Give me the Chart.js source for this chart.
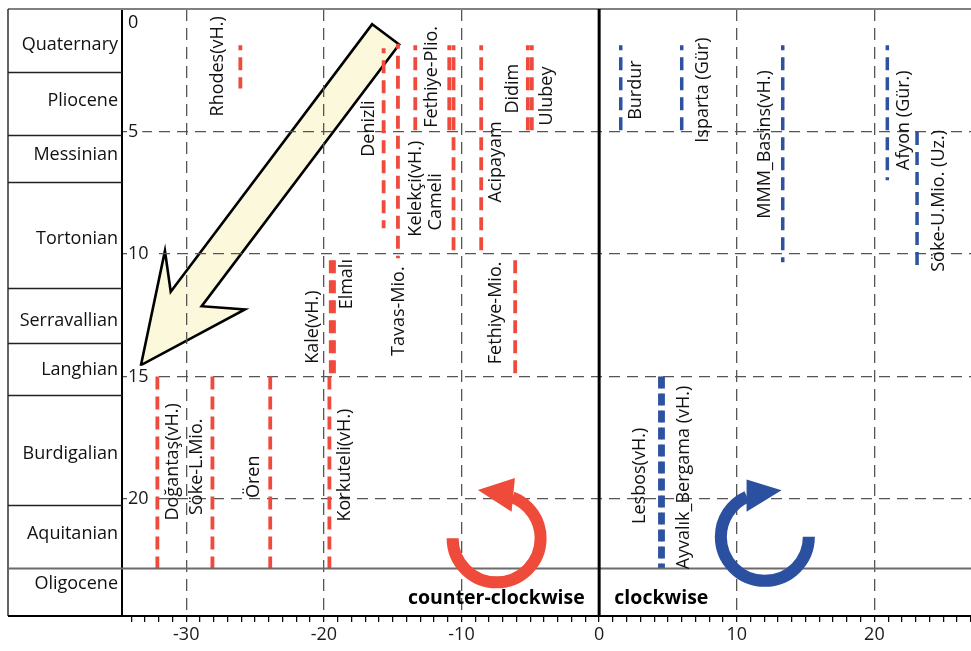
<!DOCTYPE html>
<html>
<head>
<meta charset="utf-8">
<script src="https://cdn.jsdelivr.net/npm/chart.js@4.4.1/dist/chart.umd.min.js"></script>
<style>
html,body{margin:0;padding:0;background:#fff;}
#wrap{width:971px;height:651px;position:relative;}
</style>
</head>
<body>
<div id="wrap"><canvas id="c" width="971" height="651"></canvas></div>
<script>
// ---------- DATA ----------
// Stratigraphic column (age in Ma, increasing downwards)
const epochNames = ['Quaternary','Pliocene','Messinian','Tortonian','Serravallian','Langhian','Burdigalian','Aquitanian','Oligocene'];
const epochBase  = [2.57, 5.14, 7.04, 11.40, 13.61, 15.75, 20.22, 22.83, 24.77];
const epochLabelAge = [1.48, 3.76, 5.97, 9.39, 12.74, 14.74, 18.16, 21.43, 23.47];

// Counter-clockwise rotations (red), rotation in degrees, age range in Ma
const ccwSites    = ['Rhodes(vH.)','Denizli','Tavas-Mio.','Fethiye-Plio.','Kelekçi(vH.)','Cameli','Acipayam','Didim','Ulubey','Fethiye-Mio.','Kale(vH.)','Elmalı','Korkuteli(vH.)','Doğantaş(vH.)','Söke-L.Mio.','Ören'];
const ccwRotation = [-26.07, -15.66, -14.62, -13.36, -10.89, -10.58, -8.57, -5.18, -4.89, -6.10, -19.50, -19.27, -19.60, -32.10, -28.10, -23.90];
const ccwFrom     = [1.48, 1.60, 1.42, 1.48, 1.48, 1.48, 1.48, 1.48, 1.48, 10.25, 10.25, 10.25, 15.0, 15.0, 15.0, 15.0];
const ccwTo       = [3.24, 8.95, 10.17, 4.95, 4.95, 10.10, 9.97, 4.95, 4.95, 15.0, 15.0, 15.0, 22.83, 22.83, 22.83, 22.83];
const ccwLabelRot = [-27.70, -16.73, -14.55, -12.15, -13.35, -11.87, -7.50, -6.27, -3.80, -7.50, -20.80, -18.33, -18.47, -30.97, -29.22, -25.08];
const ccwLabelAge = [2.34, 4.88, 12.33, 2.77, 7.33, 7.87, 6.24, 3.25, 3.55, 12.40, 12.98, 11.23, 18.61, 18.48, 18.68, 19.09];

// Clockwise rotations (blue)
const cwSites    = ['Burdur','Isparta (Gür)','MMM_Basins(vH.)','Afyon (Gür.)','Söke-U.Mio. (Uz.)','Lesbos(vH.)','Ayvalık_Bergama (vH.)'];
const cwRotation = [1.57, 6.00, 13.34, 20.94, 23.10, 4.42, 4.64];
const cwFrom     = [1.48, 1.48, 1.48, 1.48, 5.02, 15.0, 15.0];
const cwTo       = [4.95, 4.95, 10.33, 6.99, 10.45, 22.83, 22.83];
const cwLabelRot = [2.67, 7.53, 12.04, 22.13, 24.67, 2.96, 6.15];
const cwLabelAge = [3.31, 3.31, 5.53, 4.54, 7.83, 19.05, 19.12];

// Axes
const X_MIN = -34.67, X_MAX = 27.02;
const Y_MIN = 0, Y_MAX = 24.77;
const xMajorTicks = [-30, -20, -10, 0, 10, 20];
const yTicks = [0, 5, 10, 15, 20];

// Annotations (data units)
const bigArrow = [[-16.49,0.62],[-14.53,1.45],[-28.88,12.13],[-25.74,12.26],[-33.29,14.53],[-31.55,9.87],[-31.13,11.54]];
const ccwCircle = {x: -7.45, y: 21.6};
const cwCircle  = {x: 12.04, y: 21.54};
const ccwText = {x: -7.47, y: 24.04, text: 'counter-clockwise'};
const cwText  = {x: 4.52, y: 24.04, text: 'clockwise'};

// ---------- STYLE ----------
const FONT = '"Open Sans", "Noto Sans", sans-serif';
const RED = '#EF4A3C';
const BLUE = '#2C52A0';
Chart.defaults.font.family = FONT;

const datasets = [];
ccwSites.forEach((name, i) => {
  datasets.push({
    label: name,
    data: [{x: ccwRotation[i], y: ccwFrom[i]}, {x: ccwRotation[i], y: ccwTo[i]}],
    showLine: true, borderColor: RED, borderWidth: 3.8,
    borderDash: [13, 7], borderDashOffset: ccwFrom[i] < 2 ? 8 : 0,
    pointRadius: 0, fill: false
  });
});
cwSites.forEach((name, i) => {
  const thick = cwFrom[i] >= 15;
  datasets.push({
    label: name,
    data: [{x: cwRotation[i], y: cwFrom[i]}, {x: cwRotation[i], y: cwTo[i]}],
    showLine: true, borderColor: BLUE, borderWidth: thick ? 3.8 : 3.5,
    borderDash: thick ? [12, 5] : [13, 7], borderDashOffset: cwFrom[i] < 2 ? 8 : 0,
    pointRadius: 0, fill: false
  });
});

function px(chart, v) { return chart.scales.x.getPixelForValue(v); }
function py(chart, v) { return chart.scales.y.getPixelForValue(v); }

const backgroundPlugin = {
  id: 'bgArrow',
  beforeDraw(chart) {
    const ctx = chart.ctx;
    ctx.save();
    ctx.fillStyle = '#fff';
    ctx.fillRect(0, 0, chart.width, chart.height);
    // big yellow arrow
    ctx.beginPath();
    bigArrow.forEach((p, i) => {
      const X = px(chart, p[0]), Y = py(chart, p[1]);
      if (i === 0) ctx.moveTo(X, Y); else ctx.lineTo(X, Y);
    });
    ctx.closePath();
    ctx.fillStyle = '#FCF8DC';
    ctx.fill();
    ctx.lineWidth = 2.6;
    ctx.lineJoin = 'miter';
    ctx.strokeStyle = '#000';
    ctx.stroke();
    ctx.restore();
  }
};

function ring(ctx, cx, cy, r, w, a0, a1, acw, color, head) {
  ctx.save();
  ctx.strokeStyle = color;
  ctx.lineWidth = w;
  ctx.lineCap = 'butt';
  ctx.beginPath();
  ctx.arc(cx, cy, r, a0, a1, acw);
  ctx.stroke();
  ctx.fillStyle = color;
  ctx.beginPath();
  ctx.moveTo(cx + head[0][0], cy + head[0][1]);
  ctx.lineTo(cx + head[1][0], cy + head[1][1]);
  ctx.lineTo(cx + head[2][0], cy + head[2][1]);
  ctx.closePath();
  ctx.fill();
  ctx.restore();
}

const overlayPlugin = {
  id: 'overlay',
  afterDatasetsDraw(chart) {
    const ctx = chart.ctx;
    const ca = chart.chartArea;
    const tableLeft = 8;
    ctx.save();
    // top frame
    ctx.strokeStyle = '#808080';
    ctx.lineWidth = 2;
    ctx.beginPath();
    ctx.moveTo(tableLeft, ca.top);
    ctx.lineTo(chart.width, ca.top);
    ctx.stroke();
    // table border
    ctx.strokeStyle = '#222';
    ctx.lineWidth = 1.4;
    ctx.beginPath();
    ctx.moveTo(tableLeft, ca.top);
    ctx.lineTo(tableLeft, ca.bottom);
    ctx.stroke();
    // bottom line under table
    ctx.strokeStyle = '#000';
    ctx.lineWidth = 2;
    ctx.beginPath();
    ctx.moveTo(tableLeft, ca.bottom);
    ctx.lineTo(ca.left, ca.bottom);
    ctx.stroke();
    // epoch separators
    epochBase.forEach((b, i) => {
      if (i === epochBase.length - 1) return;
      const Y = Math.round(py(chart, b)) + 0.5;
      ctx.beginPath();
      if (i === epochBase.length - 2) {
        ctx.strokeStyle = '#6b6b6b';
        ctx.lineWidth = 2;
        ctx.moveTo(tableLeft, Y);
        ctx.lineTo(chart.width, Y);
      } else {
        ctx.strokeStyle = '#222';
        ctx.lineWidth = 1.4;
        ctx.moveTo(tableLeft, Y);
        ctx.lineTo(ca.left, Y);
      }
      ctx.stroke();
    });
    // epoch labels
    ctx.fillStyle = '#111';
    ctx.font = '18px ' + FONT;
    ctx.textAlign = 'right';
    ctx.textBaseline = 'middle';
    epochNames.forEach((n, i) => {
      ctx.fillText(n, ca.left - 4, py(chart, epochLabelAge[i]));
    });
    // "0" label on y axis
    ctx.textAlign = 'left';
    ctx.fillText('0', ca.left + 6, py(chart, 0) + 14);
    // zero rotation line
    ctx.strokeStyle = '#000';
    ctx.lineWidth = 3;
    ctx.beginPath();
    ctx.moveTo(px(chart, 0), ca.top);
    ctx.lineTo(px(chart, 0), ca.bottom);
    ctx.stroke();
    // site labels (rotated)
    ctx.fillStyle = '#111';
    ctx.font = '18px ' + FONT;
    ctx.textAlign = 'center';
    ctx.textBaseline = 'middle';
    const drawRot = (txt, xv, yv) => {
      ctx.save();
      ctx.translate(px(chart, xv), py(chart, yv));
      ctx.rotate(-Math.PI / 2);
      ctx.fillText(txt, 0, 0);
      ctx.restore();
    };
    ccwSites.forEach((n, i) => drawRot(n, ccwLabelRot[i], ccwLabelAge[i]));
    cwSites.forEach((n, i) => drawRot(n, cwLabelRot[i], cwLabelAge[i]));
    // rotation sense arrows
    ring(ctx, px(chart, ccwCircle.x), py(chart, ccwCircle.y), 44, 12, Math.PI, -69 * Math.PI / 180, true, '#EE4B3B',
      [[-18.7, -48.3], [18.3, -60.3], [15, -26.6]]);
    ring(ctx, px(chart, cwCircle.x), py(chart, cwCircle.y), 44, 12, 0, 246 * Math.PI / 180, false, '#2B50A0',
      [[16.7, -46.7], [-18.3, -57.4], [-18.3, -25]]);
    // bold captions
    ctx.fillStyle = '#000';
    ctx.font = 'bold 19.5px ' + FONT;
    ctx.textAlign = 'center';
    ctx.textBaseline = 'middle';
    ctx.fillText(ccwText.text, px(chart, ccwText.x), py(chart, ccwText.y));
    ctx.fillText(cwText.text, px(chart, cwText.x), py(chart, cwText.y));
    ctx.restore();
  }
};

const xMinorTicks = [];
for (let v = Math.ceil(X_MIN); v <= Math.floor(X_MAX); v++) xMinorTicks.push(v);

new Chart(document.getElementById('c'), {
  type: 'scatter',
  data: { datasets },
  options: {
    responsive: false,
    animation: false,
    layout: { padding: { top: 9, left: 0, right: 0, bottom: 0 } },
    plugins: { legend: { display: false }, tooltip: { enabled: false } },
    scales: {
      x: {
        type: 'linear', min: X_MIN, max: X_MAX,
        afterBuildTicks: s => { s.ticks = xMinorTicks.map(v => ({ value: v })); },
        afterFit: s => { s.height = 35; s.paddingLeft = 0; s.paddingRight = 0; },
        ticks: {
          autoSkip: false, maxRotation: 0, minRotation: 0, padding: 2,
          callback: v => xMajorTicks.includes(v) ? String(v) : '',
          font: { size: 18, family: FONT }, color: '#1a1a1a'
        },
        grid: {
          color: c => (c.tick && xMajorTicks.includes(c.tick.value) && c.tick.value !== 0) ? '#555' : 'rgba(0,0,0,0)',
          lineWidth: 1.3, tickColor: '#000', tickLength: 6, tickWidth: 1.2
        },
        border: { color: '#000', width: 2, dash: [12, 7] }
      },
      y: {
        type: 'linear', reverse: true, min: Y_MIN, max: Y_MAX,
        afterBuildTicks: s => { s.ticks = yTicks.map(v => ({ value: v })); },
        afterFit: s => { s.width = 122; s.paddingTop = 0; s.paddingBottom = 0; },
        ticks: {
          mirror: true, padding: 6,
          callback: v => v === 0 ? '' : String(v),
          font: { size: 18, family: FONT }, color: '#1a1a1a',
          showLabelBackdrop: true, backdropColor: '#fff',
          backdropPadding: { left: 1, right: 4, top: 0, bottom: 0 }
        },
        grid: {
          color: c => (c.tick && c.tick.value !== 0) ? '#555' : 'rgba(0,0,0,0)',
          lineWidth: 1.3, drawTicks: false
        },
        border: { color: '#000', width: 2, dash: [11, 7] }
      }
    }
  },
  plugins: [backgroundPlugin, overlayPlugin]
});
</script>
</body>
</html>
